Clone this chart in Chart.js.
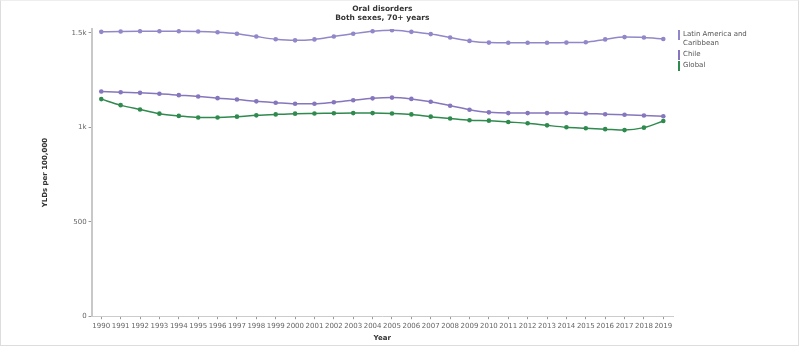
<!DOCTYPE html>
<html lang="en">
<head>
<meta charset="UTF-8">
<title>Oral disorders</title>
<script src="https://cdn.jsdelivr.net/npm/chart.js"></script>
<style>
    body { margin: 0; padding: 0; background: #fff; font-family: 'DejaVu Sans', sans-serif; }
    .frame { position: relative; width: 797px; height: 344px; border: 1px solid #ddd; border-top-color: #eee; }
    .wrap { position: absolute; left: 0; top: 0; width: 797px; height: 344px; }
    .legend { position: absolute; left: 677px; top: 29px; font-size: 7px; color: #555; line-height: 9px; }
    .legend div { position: relative; padding-left: 5px; margin-bottom: 2px; width: 90px; }
    .legend span { position: absolute; left: 0; top: 0; width: 1.5px; height: 10px; }
</style>
</head>
<body>
<div class="frame">
    <div class="wrap"><canvas id="chart"></canvas></div>
    <div class="legend" id="legend"></div>
</div>

<script>
const years = ['1990','1991','1992','1993','1994','1995','1996','1997','1998','1999',
    '2000','2001','2002','2003','2004','2005','2006','2007','2008','2009',
    '2010','2011','2012','2013','2014','2015','2016','2017','2018','2019'];

const latinAmerica = [1505, 1507, 1508, 1508, 1508, 1507, 1503, 1495, 1480, 1466,
    1460, 1465, 1480, 1495, 1508, 1513, 1505, 1493, 1475, 1457,
    1448, 1447, 1447, 1447, 1448, 1450, 1465, 1477, 1475, 1467];

const chile = [1189, 1185, 1182, 1177, 1170, 1163, 1154, 1147, 1137, 1130,
    1124, 1124, 1132, 1143, 1153, 1157, 1150, 1135, 1114, 1093,
    1079, 1075, 1075, 1075, 1075, 1073, 1069, 1066, 1062, 1058];

const globalValues = [1149, 1117, 1094, 1072, 1060, 1052, 1052, 1056, 1063, 1068,
    1072, 1073, 1074, 1075, 1075, 1073, 1068, 1056, 1046, 1037,
    1035, 1028, 1021, 1010, 1000, 995, 990, 985, 998, 1033];

const yTicks = [0, 500, 1000, 1500];

const seriesNames = ['Latin America and Caribbean', 'Chile', 'Global'];
const seriesColors = ['#9088c8', '#8676bd', '#2f8a4e'];

function makeDataset(label, data, color) {
    return {
        label: label,
        data: data,
        borderColor: color,
        backgroundColor: color,
        borderWidth: 1.5,
        pointRadius: 2.3,
        pointBorderWidth: 0,
        cubicInterpolationMode: 'monotone'
    };
}

const tickFont = { family: "'DejaVu Sans', sans-serif", size: 7 };
const boldFont = { family: "'DejaVu Sans', sans-serif", size: 7, weight: 'bold' };

new Chart(document.getElementById('chart'), {
    type: 'line',
    data: {
        labels: years,
        datasets: [
            makeDataset(seriesNames[0], latinAmerica, seriesColors[0]),
            makeDataset(seriesNames[1], chile, seriesColors[1]),
            makeDataset(seriesNames[2], globalValues, seriesColors[2])
        ]
    },
    options: {
        responsive: true,
        maintainAspectRatio: false,
        animation: false,
        layout: { padding: { left: 40, right: 125, top: 2, bottom: 3 } },
        plugins: {
            legend: { display: false },
            tooltip: { enabled: false },
            title: {
                display: true,
                fullSize: false,
                text: ['Oral disorders', 'Both sexes, 70+ years'],
                color: '#333',
                font: { family: "'DejaVu Sans', sans-serif", size: 7.5, weight: 'bold' },
                lineHeight: 1.3,
                padding: { top: 2, bottom: 6 }
            }
        },
        scales: {
            x: {
                offset: true,
                grid: { display: true, drawOnChartArea: false, tickLength: 3, color: '#999' },
                border: { color: '#ccc', width: 1 },
                ticks: { font: tickFont, color: '#666', maxRotation: 0, autoSkip: false, padding: 3 },
                title: { display: true, text: 'Year', font: boldFont, color: '#333', padding: { top: 0, bottom: 0 } }
            },
            y: {
                min: 0,
                max: 1520,
                afterBuildTicks: axis => { axis.ticks = yTicks.map(v => ({ value: v })); },
                grid: { display: true, drawOnChartArea: false, tickLength: 3, color: '#999' },
                border: { color: '#c8c8c8', width: 2 },
                ticks: {
                    font: tickFont, color: '#666', padding: 2,
                    callback: v => v >= 1000 ? (v / 1000) + 'k' : v
                },
                title: { display: true, text: 'YLDs per 100,000', font: boldFont, color: '#333', padding: { top: 0, bottom: 20 } }
            }
        }
    }
});

// legend with a thin colour bar before each name
const legendEl = document.getElementById('legend');
seriesNames.forEach((name, i) => {
    const row = document.createElement('div');
    row.innerHTML = '<span style="background:' + seriesColors[i] + '"></span>' + name;
    legendEl.appendChild(row);
});
</script>
</body>
</html>
